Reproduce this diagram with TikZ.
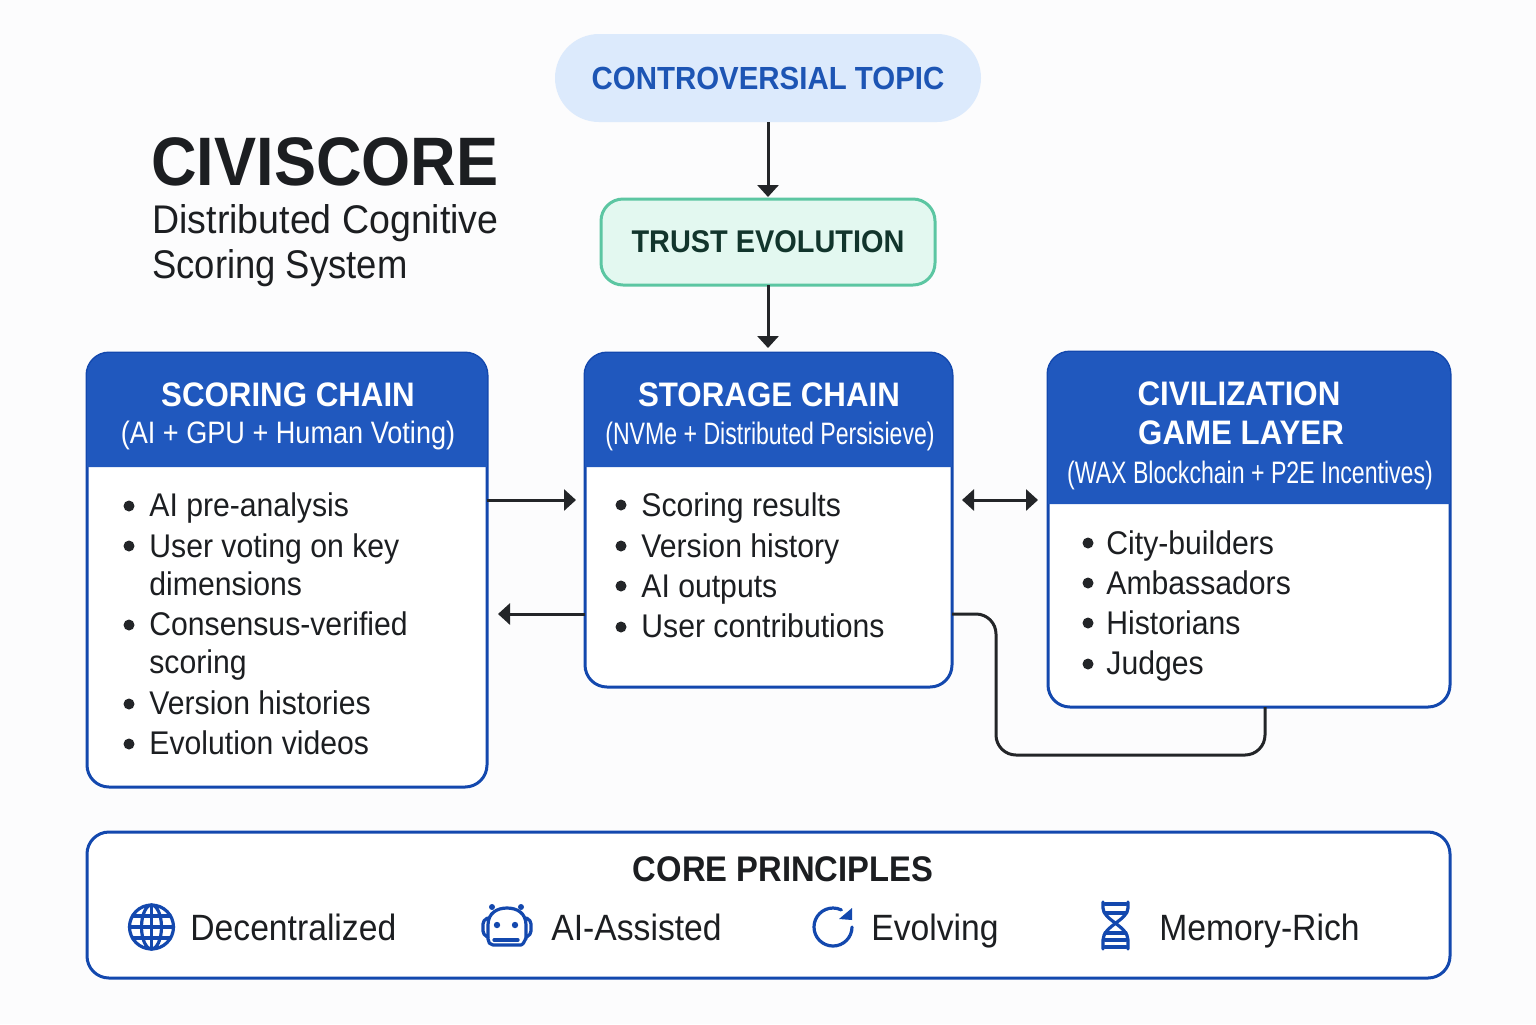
\documentclass[tikz,border=0pt]{standalone}
\usepackage{fontspec}
\setmainfont[FakeStretch=0.92]{Liberation Sans}
\usetikzlibrary{arrows.meta}

\definecolor{pagebg}{HTML}{FCFCFD}
\definecolor{ink}{HTML}{1C1E21}
\definecolor{linedark}{HTML}{232528}
\definecolor{bandblue}{HTML}{2058BE}
\definecolor{edgeblue}{HTML}{1348AE}
\definecolor{topicfill}{HTML}{DCEAFC}
\definecolor{topictext}{HTML}{1D55B4}
\definecolor{trustfill}{HTML}{E3F8F0}
\definecolor{trustedge}{HTML}{5CC6A2}
\definecolor{trusttext}{HTML}{12352C}

\newcommand{\fsize}[1]{\fontsize{#1}{#1}\selectfont}
\newcommand{\headband}[2]{\fill[bandblue,rounded corners=11pt] (#1.west |- 0,#2) -- (#1.north west) -- (#1.north east) [sharp corners] -- (#1.east |- 0,#2) -- cycle;}

\tikzset{
    panel/.style={draw=edgeblue,line width=1.5pt,fill=white,rounded corners=11pt,inner sep=0pt,outer sep=0pt},
    flow/.style={draw=linedark,line width=1.5pt,-{Triangle[length=6pt,width=10.5pt]}},
    flowboth/.style={draw=linedark,line width=1.5pt,{Triangle[length=6pt,width=10.5pt]}-{Triangle[length=6pt,width=10.5pt]}},
    headtitle/.style={anchor=base,inner sep=0pt,text=white,font=\fsize{17}\bfseries},
    headsub/.style={anchor=base,inner sep=0pt,text=white,font=\fsize{15.5}},
    itemtext/.style={anchor=base west,inner sep=0pt,text=ink,font=\fsize{16.4}},
    dot/.style={fill=linedark},
    iconline/.style={draw=edgeblue,line width=1.6pt,line cap=round,line join=round},
}

\begin{document}
\begin{tikzpicture}[x=0.5pt,y=-0.5pt]
    \fill[pagebg] (0,0) rectangle (1536,1024);

    % title
    \node[anchor=base west,inner sep=0pt,text=ink,font=\fsize{34.3}\bfseries] (title) at (151,185) {CIVISCORE};
    \node[anchor=base west,inner sep=0pt,text=ink,font=\fsize{20}] (subone) at (152,233) {\scalebox{1.02}[1]{Distributed Cognitive}};
    \node[anchor=base west,inner sep=0pt,text=ink,font=\fsize{20}] (subtwo) at (152,278) {\scalebox{.99}[1]{Scoring System}};

    % top nodes
    \node[fill=topicfill,rounded corners=22pt,minimum width=213pt,minimum height=44pt,outer sep=0pt,text=topictext,font=\fsize{16}\bfseries] (topic) at (768,78) {CONTROVERSIAL TOPIC};
    \node[draw=trustedge,line width=1.5pt,fill=trustfill,rounded corners=11pt,minimum width=167pt,minimum height=43pt,outer sep=0pt,text=trusttext,font=\fsize{15.7}\bfseries] (trust) at (768,242) {TRUST EVOLUTION};

    % panels
    \node[panel,minimum width=200pt,minimum height=217pt] (scoring) at (287,570) {};
    \node[panel,minimum width=183.5pt,minimum height=167pt] (storage) at (768.5,520) {};
    \node[panel,minimum width=201pt,minimum height=177.5pt] (civ) at (1249,529.5) {};
    \node[panel,minimum width=681.5pt,minimum height=73pt] (core) at (768.5,905) {};

    \headband{scoring}{467}
    \headband{storage}{467}
    \headband{civ}{504}

    % arrows
    \draw[flow,shorten >=1pt] (topic) -- (trust);
    \draw[flow,shorten >=2.5pt] (trust.south) -- (trust.south |- storage.north);
    \draw[flow,shorten >=4.5pt] (scoring.east |- 0,500) -- (storage.west |- 0,500);
    \draw[flow,shorten >=5.5pt] (storage.west |- 0,614) -- (scoring.east |- 0,614);
    \draw[flowboth,shorten <=5pt,shorten >=5pt] (storage.east |- 0,500) -- (civ.west |- 0,500);
    \draw[draw=linedark,line width=1.5pt,rounded corners=10pt] (storage.east |- 0,614) -- (996,614) -- (996,755) -- (1265,755) -- (1265,0 |- civ.south);

    % scoring chain
    \node[headtitle] (scoringhead) at (288,406) {SCORING CHAIN};
    \node[headsub] (scoringsub) at (288,443) {\scalebox{.95}[1]{(AI + GPU + Human Voting)}};
    \foreach \y/\txt [count=\i] in {516/AI pre-analysis,557/User voting on key,595/dimensions,635/Consensus-verified,673/scoring,714/Version histories,754/Evolution videos}
        \node[itemtext] (scoringitem\i) at (149,\y) {\txt};
    \foreach \y in {506,546,625,704,744}
        \fill[dot] (129,\y) circle (5.5);

    % storage chain
    \node[headtitle] (storagehead) at (769,406) {STORAGE CHAIN};
    \node[headsub] (storagesub) at (770,444) {\scalebox{.81}[1]{(NVMe + Distributed Persisieve)}};
    \foreach \y/\txt [count=\i] in {516/Scoring results,557/Version history,597/AI outputs,637/User contributions}
        \node[itemtext] (storageitem\i) at (641,\y) {\txt};
    \foreach \y in {505,546,586,627}
        \fill[dot] (621,\y) circle (5.5);

    % civilization game layer
    \node[headtitle] (civheadone) at (1239,405) {CIVILIZATION};
    \node[headtitle] (civheadtwo) at (1241,444) {GAME LAYER};
    \node[headsub] (civsub) at (1250,483) {\scalebox{.81}[1]{(WAX Blockchain + P2E Incentives)}};
    \foreach \y/\txt [count=\i] in {554/City-builders,594/Ambassadors,634/Historians,674/Judges}
        \node[itemtext] (civitem\i) at (1106,\y) {\txt};
    \foreach \y in {543,583,623,664}
        \fill[dot] (1088,\y) circle (5.5);

    % core principles
    \node[anchor=base,inner sep=0pt,text=ink,font=\fsize{17.8}\bfseries] (corehead) at (783,881) {CORE PRINCIPLES};
    \node[itemtext,font=\fsize{18.3}] (decentral) at (190,940) {Decentralized};
    \node[itemtext,font=\fsize{18.3}] (assisted) at (551,940) {AI-Assisted};
    \node[itemtext,font=\fsize{18.3}] (evolving) at (871,940) {Evolving};
    \node[itemtext,font=\fsize{18.3}] (memory) at (1159,940) {Memory-Rich};

    % globe
    \begin{scope}[shift={(151.5,927)}]
        \draw[iconline] (0,0) circle (22);
        \draw[iconline] (0,0) ellipse (10 and 22);
        \draw[iconline] (0,-22) -- (0,22);
        \draw[iconline] (-22,0) -- (22,0);
        \draw[iconline] (-19,-11) -- (19,-11);
        \draw[iconline] (-19,11) -- (19,11);
    \end{scope}

    % robot
    \draw[iconline] (493,945) to[out=180,in=-90] (488,939) -- (488,925) .. controls (488,913) and (497,908) .. (507,908) .. controls (517,908) and (526,913) .. (526,925) -- (526,939) to[out=90,in=0] (521,945) -- cycle;
    \draw[iconline,rounded corners=2pt] (488,918) -- (483,920) -- (483,935) -- (488,937);
    \draw[iconline,rounded corners=2pt] (526,918) -- (531,920) -- (531,935) -- (526,937);
    \fill[edgeblue] (492,907) circle (3) (521,907) circle (3);
    \fill[edgeblue] (497,925) circle (3.2) (515,925) circle (3.2);
    \draw[iconline] (494,940) -- (518,940);

    % refresh
    \draw[iconline] (852,927) arc[start angle=0,end angle=296,radius=19];
    \fill[edgeblue] (852,908) -- (852,920) -- (839,919) -- cycle;

    % dna
    \draw[iconline] (1103,902) -- (1103,908) .. controls (1103,920) and (1128,926) .. (1128,940) -- (1128,949);
    \draw[iconline] (1128,902) -- (1128,908) .. controls (1128,920) and (1103,926) .. (1103,940) -- (1103,949);
    \foreach \y in {904,913,933,940,947}
        \draw[iconline] (1105,\y) -- (1126,\y);
\end{tikzpicture}
\end{document}
